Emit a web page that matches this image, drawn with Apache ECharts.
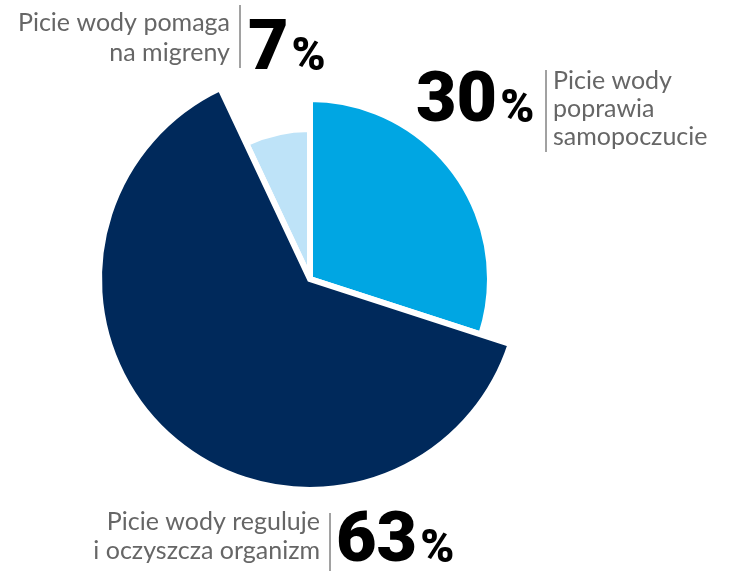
<!DOCTYPE html>
<html><head><meta charset="utf-8">
<script src="https://cdn.jsdelivr.net/npm/echarts@6/dist/echarts.min.js"></script>
<style>html,body{margin:0;padding:0;background:#fff}#c{width:730px;height:572px}</style>
</head><body><div id="c"></div>
<script>
// data
const categories = ['Picie wody poprawia samopoczucie', 'Picie wody reguluje i oczyszcza organizm', 'Picie wody pomaga na migreny'];
const values = [30, 63, 7];
const labelTexts = ['Picie wody\npoprawia\nsamopoczucie', 'Picie wody reguluje\ni oczyszcza organizm', 'Picie wody pomaga\nna migreny'];

// styles
const colors = ['#00A6E3', '#00295B', '#BEE3F8'];
const radii = [180, 211, 150];
const zs = [2, 3, 1];
const center = [310, 279];

const chart = echarts.init(document.getElementById('c'), null, {renderer: 'canvas'});

const series = values.map((_, i) => ({
  type: 'pie',
  center: center,
  radius: [0, radii[i]],
  startAngle: 90,
  clockwise: true,
  z: zs[i],
  silent: true,
  label: {show: false},
  labelLine: {show: false},
  emphasis: {disabled: true},
  data: values.map((v, j) => ({
    name: categories[j],
    value: v,
    itemStyle: j === i
      ? {color: colors[i], borderColor: '#ffffff', borderWidth: 6, borderJoin: 'miter'}
      : {color: 'rgba(0,0,0,0)', borderWidth: 0}
  }))
}));

const labelFont = '400 25px Lato, "Open Sans", sans-serif';
const numFont = '900 70px Roboto, "Liberation Sans", sans-serif';
const pctFont = '900 46px Roboto, "Liberation Sans", sans-serif';
const gray = '#666666';

function pctText(v, x, y) {
  return {
    type: 'text', x: x, y: y, silent: true,
    style: {
      text: '{n|' + v + '}{p|%}',
      align: 'left', verticalAlign: 'bottom',
      rich: {
        n: {font: numFont, fill: '#000', verticalAlign: 'bottom', lineHeight: 70},
        p: {font: pctFont, fill: '#000', verticalAlign: 'bottom', lineHeight: 70, padding: [0, 0, 5, 3]}
      }
    }
  };
}

const graphic = [
  // 7%
  {type: 'text', x: 230, y: 8, silent: true,
   style: {text: labelTexts[2], font: labelFont, fill: gray, align: 'right', verticalAlign: 'top', lineHeight: 30}},
  {type: 'line', silent: true, shape: {x1: 240, y1: 5, x2: 240, y2: 68}, style: {stroke: '#444', lineWidth: 1}},
  pctText(values[2], 248, 86),
  // 30%
  {type: 'text', x: 553, y: 67, silent: true,
   style: {text: labelTexts[0], font: labelFont, fill: gray, align: 'left', verticalAlign: 'top', lineHeight: 28}},
  {type: 'line', silent: true, shape: {x1: 546, y1: 70, x2: 546, y2: 152}, style: {stroke: '#444', lineWidth: 1}},
  pctText(values[0], 416, 138),
  // 63%
  {type: 'text', x: 320, y: 507, silent: true,
   style: {text: labelTexts[1], font: labelFont, fill: gray, align: 'right', verticalAlign: 'top', lineHeight: 29}},
  {type: 'line', silent: true, shape: {x1: 330, y1: 513, x2: 330, y2: 571}, style: {stroke: '#444', lineWidth: 1}},
  pctText(values[1], 336, 578)
];

chart.setOption({
  animation: false,
  backgroundColor: '#ffffff',
  series: series,
  graphic: graphic
});
</script>
</body></html>
